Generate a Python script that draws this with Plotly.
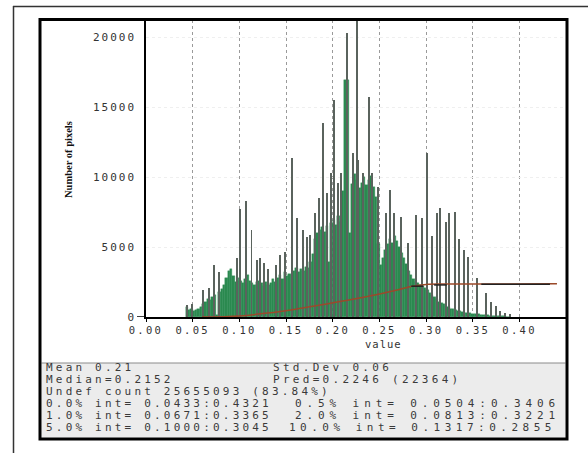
import plotly.graph_objects as go

W, H = 588, 453

# ---------------- data ----------------
bin_start = 0.0425
bin_width = 0.0025
body_counts = [
    700, 500, 600, 450, 500, 600, 700, 900, 1100, 1300,
    1200, 1400, 1600, 150, 1800, 2000, 2300, 2800, 3300, 3400,
    2900, 2500, 2800, 2600, 2400, 2700, 3000, 2600, 2400, 2300,
    2500, 2600, 2400, 2200, 2500, 2300, 2400, 2700, 2500, 2800,
    3000, 2700, 3200, 2900, 3100, 3000, 3300, 3500, 3200, 3400,
    3300, 3600, 3500, 3900, 4500, 5600, 6000, 6200, 6400, 6100,
    6500, 3900, 6700, 6900, 6600, 7200, 6800, 9000, 16900, 16900,
    6000, 9500, 10200, 9800, 9200, 9600, 10000, 9400, 9800, 10100,
    9300, 8600, 5200, 3700, 4200, 4800, 5200, 5600, 5300, 5800,
    5400, 5000, 4600, 4200, 3800, 3300, 3000, 2700, 2500, 2400,
    2300, 2200, 2100, 1900, 1700, 1600, 1400, 1300, 1100, 1000,
    900, 800, 700, 600, 550, 500, 450, 400, 350, 320,
    300, 280, 250, 230, 200, 180, 160, 150, 130, 120,
    100, 90, 80, 70, 60, 50, 40, 30, 20,
]
spike_x = [0.0435, 0.0489, 0.0614, 0.0675, 0.0728, 0.0782, 0.0971, 0.1006, 0.1070,
           0.1130, 0.1185, 0.1220, 0.1263, 0.1310, 0.1390, 0.1435, 0.1490, 0.1559,
           0.1613, 0.1684, 0.1720, 0.1756, 0.1810, 0.1856, 0.1899, 0.1934, 0.1981,
           0.2013, 0.2060, 0.2088, 0.2150, 0.2213, 0.2263, 0.2273, 0.2327, 0.2388,
           0.2416, 0.2488, 0.2566, 0.2613, 0.2659, 0.2727, 0.2809, 0.2888, 0.2952,
           0.3005, 0.3060, 0.3112, 0.3148, 0.3212, 0.3244, 0.3308, 0.3355, 0.3405,
           0.3451, 0.3547, 0.3640, 0.3694, 0.3744, 0.3790, 0.3844, 0.3897]
spike_h = [850, 900, 1950, 2100, 3700, 3250, 4200, 7750, 8300,
           6200, 4100, 4200, 3850, 3400, 3700, 4450, 4650, 11350,
           7050, 6200, 5700, 5850, 7450, 8500, 13850, 8850, 10300,
           15500, 9600, 10300, 20300, 11700, 22500, 11200, 10300, 15700,
           10300, 9300, 7400, 9070, 7450, 7140, 5300, 7280, 7070,
           11700, 5800, 7400, 7800, 6800, 7400, 7500, 5600, 4800,
           4300, 2800, 1700, 1070, 780, 430, 280, 200]
cum_x = [0.06, 0.10, 0.13, 0.16, 0.19, 0.22, 0.25, 0.27, 0.285, 0.30, 0.32, 0.44]
cum_y = [0, 80, 280, 560, 900, 1250, 1650, 1950, 2200, 2330, 2360, 2370]
pred_x = [[0.284, 0.297], [0.3085, 0.322], [0.359, 0.4325]]
pred_y = [[2200, 2200], [2290, 2290], [2340, 2340]]

x_ticks = [0.00, 0.05, 0.10, 0.15, 0.20, 0.25, 0.30, 0.35, 0.40]
x_tick_labels = ["0.00", "0.05", "0.10", "0.15", "0.20", "0.25", "0.30", "0.35", "0.40"]
y_ticks = [0, 5000, 10000, 15000, 20000]
y_tick_labels = ["0", "5000", "10000", "15000", "20000"]

stats_left = ["Mean 0.21", "Median=0.2152", "Undef count 25655093 (83.84%)",
              "0.0% int= 0.0433:0.4321", "1.0% int= 0.0671:0.3365", "5.0% int= 0.1000:0.3045"]
stats_right = ["Std.Dev 0.06", "Pred=0.2246 (22364)", "",
               "0.5% int= 0.0504:0.3406", "2.0% int= 0.0813:0.3221", "10.0% int= 0.1317:0.2855"]
x_title = "value"
y_title = "Number of pixels"

# ---------------- helpers ----------------
def px(x):
    return x / W

def py(y):
    return 1 - y / H

def spaced(s, ls):
    return f'<span style="letter-spacing:{ls}px">{s}</span>'

bin_centers = [round(bin_start + bin_width * (i + 0.5), 5) for i in range(len(body_counts))]

fig = go.Figure()
fig.add_trace(go.Bar(x=bin_centers, y=body_counts, width=bin_width,
                     marker=dict(color="#2b8a50", line=dict(width=0.4, color="#2b8a50")),
                     hoverinfo="skip"))
fig.add_trace(go.Bar(x=spike_x, y=spike_h, width=0.0009,
                     marker=dict(color="#5a635d", line=dict(width=0)), hoverinfo="skip"))
fig.add_trace(go.Scatter(x=cum_x, y=cum_y, mode="lines",
                         line=dict(color="#9a4a2a", width=1.5, shape="spline"), hoverinfo="skip"))
for sx, sy in zip(pred_x, pred_y):
    fig.add_trace(go.Scatter(x=sx, y=sy, mode="lines", line=dict(color="#222222", width=1.5),
                             hoverinfo="skip"))

mono = "DejaVu Sans Mono"
fig.update_layout(
    width=W, height=H, margin=dict(l=0, r=0, t=0, b=0, autoexpand=False),
    paper_bgcolor="white", plot_bgcolor="white",
    showlegend=False, barmode="overlay", bargap=0,
    xaxis=dict(domain=[px(146), px(566)], range=[0, (566 - 146) / 934], automargin=False,
               tickvals=x_ticks, ticktext=[spaced(t, 2.3) for t in x_tick_labels],
               tickfont=dict(family=mono, size=10.5, color="#333"),
               showgrid=True, gridcolor="#9a9a9a", griddash="dot", gridwidth=1,
               showline=True, linecolor="black", linewidth=1.5,
               ticks="outside", ticklen=3, tickcolor="black", zeroline=False),
    yaxis=dict(domain=[py(317), py(20)], range=[0, 297 * 5000 / 70], automargin=False,
               tickvals=y_ticks, ticktext=[spaced(t, 2.0) for t in y_tick_labels],
               tickfont=dict(family=mono, size=11, color="#333"),
               showgrid=True, gridcolor="#efefef", griddash="dot", gridwidth=1,
               showline=True, linecolor="black", linewidth=1.5,
               ticks="", ticklabelstandoff=6, zeroline=False),
)

shapes = [
    dict(type="line", xref="paper", yref="paper", x0=px(13), x1=1, y0=py(6.5), y1=py(6.5),
         line=dict(color="#333", width=1.5)),
    dict(type="line", xref="paper", yref="paper", x0=px(13.5), x1=px(13.5), y0=py(6), y1=0,
         line=dict(color="#333", width=1.5)),
    dict(type="rect", xref="paper", yref="paper", x0=px(41.5), x1=px(565.5), y0=py(437.5), y1=py(363),
         fillcolor="#ececec", line=dict(width=0), layer="below"),
    dict(type="line", xref="paper", yref="paper", x0=px(41.5), x1=px(565.5), y0=py(363), y1=py(363),
         line=dict(color="#8a8a8a", width=1)),
    dict(type="rect", xref="paper", yref="paper", x0=px(40), x1=px(567), y0=py(439), y1=py(19.5),
         line=dict(color="black", width=3)),
    dict(type="line", xref="paper", yref="y", x0=px(137), x1=px(146), y0=0, y1=0,
         line=dict(color="black", width=1.5)),
]
fig.update_layout(shapes=shapes)

ann = []
rows_y = [367, 379.5, 391.5, 403.5, 415, 427]
stat_font = dict(family=mono, size=11, color="#3a3a3a")
for i, (lt, rt) in enumerate(zip(stats_left, stats_right)):
    ann.append(dict(xref="paper", yref="paper", x=px(44), y=py(rows_y[i]), xanchor="left", yanchor="middle",
                    text=spaced(lt, 3.2), showarrow=False, font=stat_font))
    if rt:
        rx, ls = (271, 3.3) if i < 2 else ((287, 4.5) if rt.startswith("10") else (293, 4.9))
        ann.append(dict(xref="paper", yref="paper", x=px(rx), y=py(rows_y[i]), xanchor="left",
                        yanchor="middle", text=spaced(rt, ls), showarrow=False, font=stat_font))
ann.append(dict(xref="paper", yref="paper", x=px(384), y=py(344), xanchor="center", yanchor="middle",
                text=spaced(x_title, 1.0), showarrow=False, font=dict(family=mono, size=10.5, color="#333")))
ann.append(dict(xref="paper", yref="paper", x=px(68), y=py(160), xanchor="center", yanchor="middle",
                text="<b>" + y_title + "</b>", textangle=-90, showarrow=False,
                font=dict(family="Liberation Serif", size=10.5, color="#111")))
fig.update_layout(annotations=ann)

fig.write_html("out.html", config={"displayModeBar": False},
               post_script="document.body.style.margin='0';document.body.style.overflow='hidden';")
